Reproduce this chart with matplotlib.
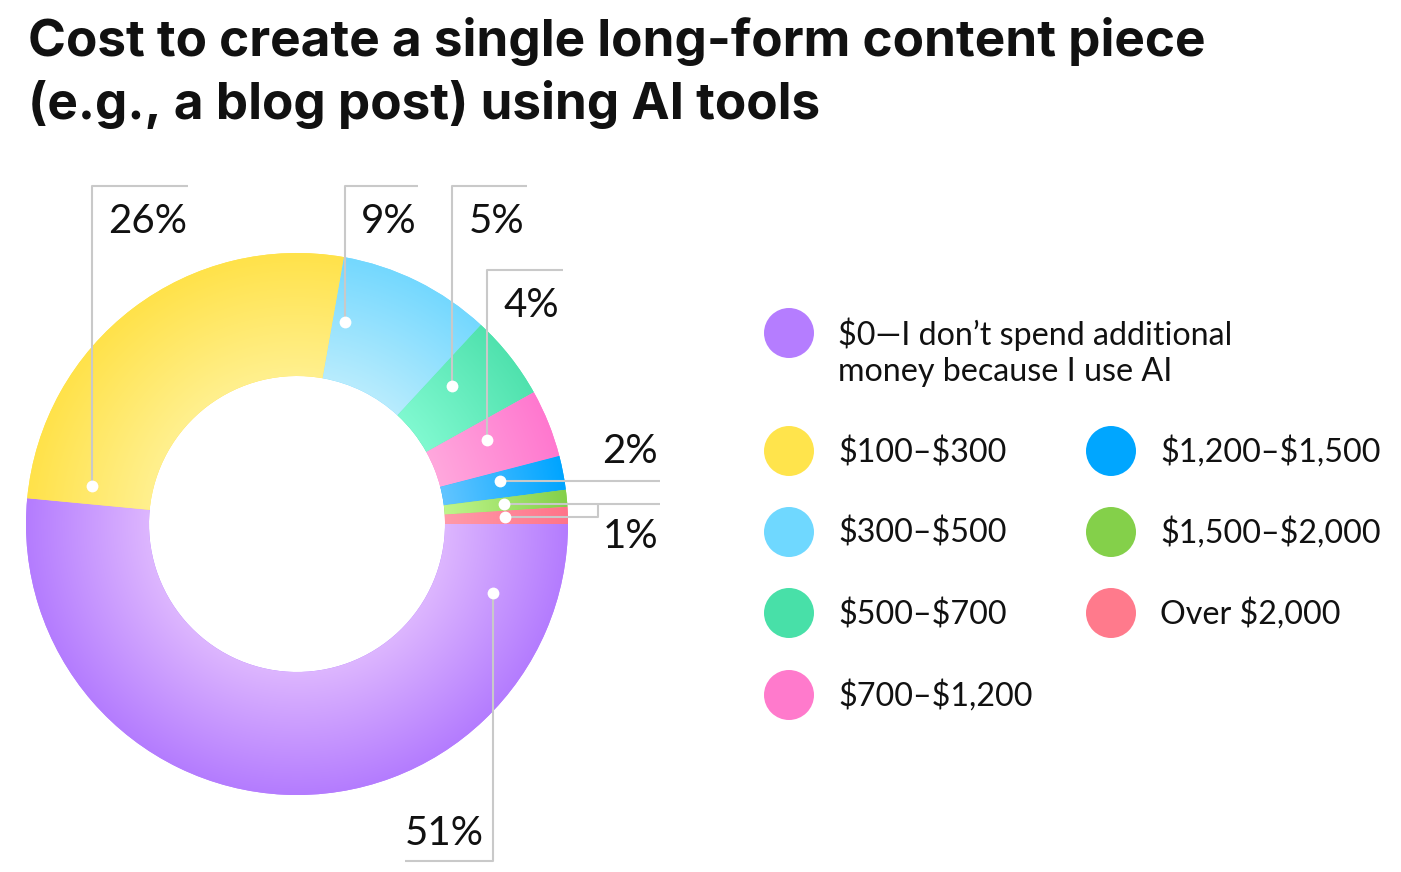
import numpy as np
import matplotlib
matplotlib.use("Agg")
import matplotlib.pyplot as plt
from matplotlib.patches import Ellipse
from matplotlib.colors import to_rgb

# ---------------- data ----------------
categories = ["$0\u2014I don\u2019t spend additional\nmoney because I use AI",
              "$100\u2013$300", "$300\u2013$500", "$500\u2013$700", "$700\u2013$1,200",
              "$1,200\u2013$1,500", "$1,500\u2013$2,000", "Over $2,000"]
values = [51, 26, 9, 5, 4, 2, 1, 1]
pct_labels = ["51%", "26%", "9%", "5%", "4%", "2%", "1%", "1%"]
legend_colors = ["#b57dff", "#ffe44c", "#6fd8ff", "#48e0a8", "#ff7acc", "#00a6ff", "#84d04a", "#ff7a8c"]
inner_colors = ["#ddb6ff", "#fff08e", "#b8ecfd", "#80f9d0", "#ffa8dd", "#62c5ff", "#c0f68c", "#ff9aaa"]
outer_colors = ["#b47cfe", "#ffe24a", "#74d8ff", "#50e2ae", "#ff78cf", "#00a5ff", "#84d04a", "#ff7489"]
title = "Cost to create a single long-form content piece\n(e.g., a blog post) using AI tools"

# ---------------- layout ----------------
W, H = 1401, 872
def Y(y):
    return H - y

fig = plt.figure(figsize=(W / 100, H / 100), dpi=100)
ax = fig.add_axes([0, 0, 1, 1])

cx, cy = 297, Y(524)
R_out, R_in = 271, 148

wedges, _ = ax.pie(values, radius=R_out, center=(cx, cy), startangle=0, counterclock=False,
                   colors=outer_colors, wedgeprops=dict(width=R_out - R_in, edgecolor="none", linewidth=0))

# radial gradient overlay for each wedge
n = 600
xs = np.linspace(cx - R_out, cx + R_out, n)
ys = np.linspace(cy - R_out, cy + R_out, n)
XX, YY = np.meshgrid(xs, ys)
rr = np.hypot(XX - cx, YY - cy)
t = np.clip((rr - R_in) / (R_out - R_in), 0, 1)[..., None]
for w, ci, co in zip(wedges, inner_colors, outer_colors):
    a = np.array(to_rgb(ci)); b = np.array(to_rgb(co))
    img = a * (1 - t) + b * t
    im = ax.imshow(img, extent=(cx - R_out, cx + R_out, cy - R_out, cy + R_out),
                   origin="lower", interpolation="bilinear", zorder=2)
    im.set_clip_path(w)

ax.set_xlim(0, W)
ax.set_ylim(0, H)
ax.set_aspect("equal")
ax.axis("off")

# ---------------- leader lines ----------------
lc = "#c9c9c9"
lw = 1.5
r_dot = 208
dot_angles = [-19.5, 169.5, 76.7, 41.7, 23.7, 12.0, 5.5, 1.9]
dots = [(cx + r_dot * np.cos(np.radians(a)), cy + r_dot * np.sin(np.radians(a))) for a in dot_angles]

def line(xs_, ys_):
    ax.plot(xs_, ys_, color=lc, lw=lw, zorder=3, solid_capstyle="butt")

# 51%
x0, y0 = dots[0]
line([x0, x0, 405], [y0, Y(861), Y(861)])
# 26%, 9%, 5%
for i, xr in zip([1, 2, 3], [188, 418, 527]):
    x0, y0 = dots[i]
    line([x0, x0, xr], [y0, Y(186), Y(186)])
# 4%
x0, y0 = dots[4]
line([x0, x0, 563], [y0, Y(270), Y(270)])
# 2%
x0, y0 = dots[5]
line([x0, 660], [y0, y0])
# 1% (two)
x0, y0 = dots[6]
line([x0, 660], [y0, y0])
x1, y1 = dots[7]
line([x1, 598, 598], [y1, y1, y0])

for (x0, y0) in dots:
    ax.plot(x0, y0, "o", ms=8.5, color="white", mec="none", zorder=4)

# ---------------- percent labels ----------------
pfont = dict(family=["Lato", "DejaVu Sans"], fontsize=29, color="#111111", fontweight="normal")
label_pos = [(405, 845, "left"), (108, 233, "left"), (361, 233, "left"), (469, 233, "left"),
             (503, 317, "left"), (658, 463, "right"), (658, 548, "right")]
for (lx, ly, ha), txt in zip(label_pos, pct_labels[:7]):
    ax.text(lx, Y(ly), txt, ha=ha, va="baseline", zorder=5, **pfont)

# ---------------- title (auto-fit to reference width) ----------------
tfont = dict(family=["Inter", "Lato", "DejaVu Sans"], fontweight="bold", color="#111111")
t1 = fig.text(28 / W, 1 - 56 / H, title.split("\n")[0], ha="left", va="baseline", fontsize=36, **tfont)
t2 = fig.text(28 / W, 1 - 119 / H, title.split("\n")[1], ha="left", va="baseline", fontsize=36, **tfont)
renderer = fig.canvas.get_renderer()
wpx = t1.get_window_extent(renderer).width
fs = 36 * 1180 / wpx
t1.set_fontsize(fs)
t2.set_fontsize(fs)

# ---------------- legend ----------------
lfont = dict(family=["Lato", "DejaVu Sans"], fontsize=23.2, color="#111111", parse_math=False)
leg_pos = [(789, 333), (789, 451), (789, 532), (789, 613), (789, 695),
           (1111, 451), (1111, 532), (1111, 613)]
for (ex, ey), col, cat in zip(leg_pos, legend_colors, categories):
    ax.add_patch(Ellipse((ex, Y(ey)), 50, 50, color=col, lw=0, zorder=3))
    lines = cat.split("\n")
    if len(lines) == 1:
        ax.text(ex + 49, Y(ey + 11), lines[0], ha="left", va="baseline", **lfont)
    else:
        ax.text(ex + 49, Y(ey + 12), lines[0], ha="left", va="baseline", **lfont)
        ax.text(ex + 49, Y(ey + 48), lines[1], ha="left", va="baseline", **lfont)

fig.savefig("out.png", dpi=100, facecolor="white")
